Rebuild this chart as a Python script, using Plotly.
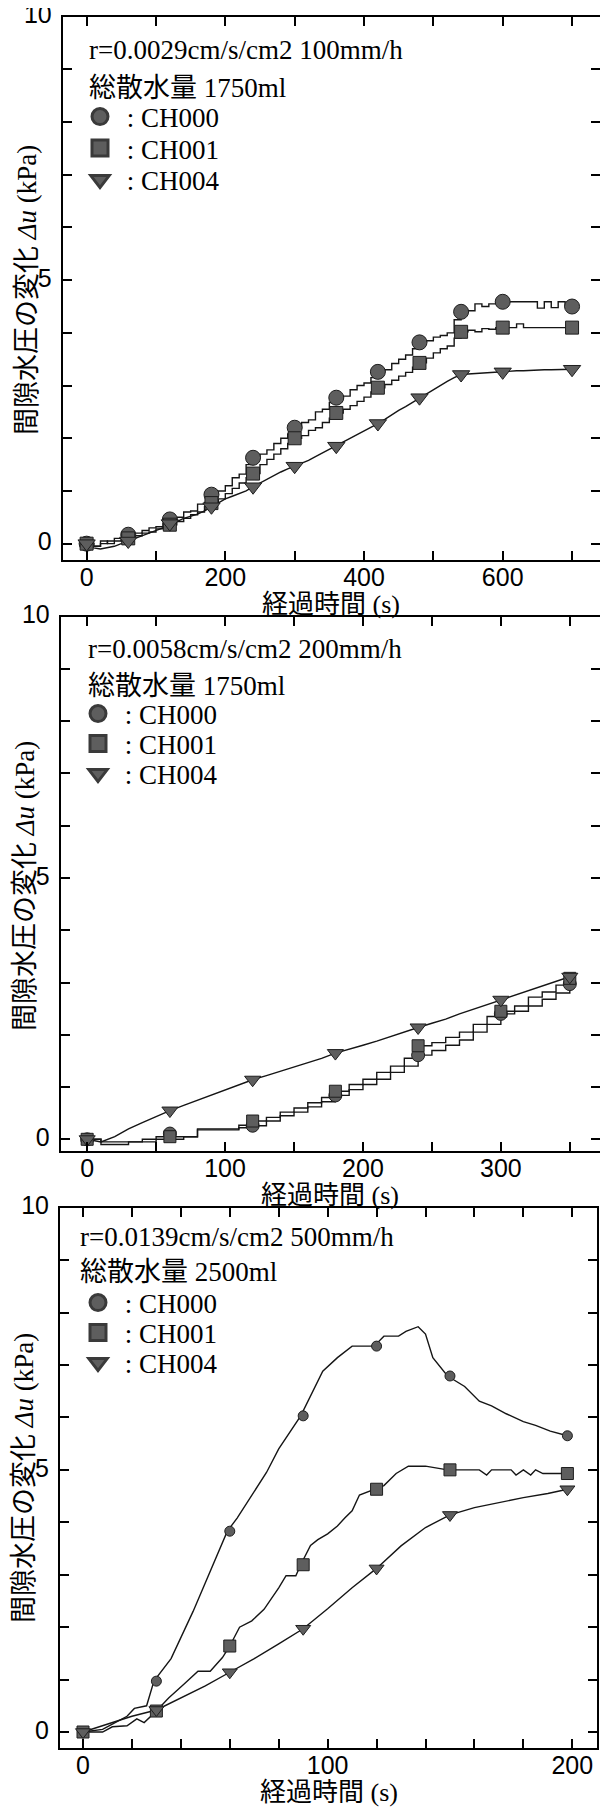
import plotly.graph_objects as go

# page body has an 8px margin; the figure fills the rest of the 608x1808 window
OFF = 8
W, H = 600, 1800

# ---------------- data ----------------
SERIES = ["CH000", "CH001", "CH004"]

# Panel 1: r=0.0029cm/s/cm2 100mm/h
P1_T = [0, 10, 20, 30, 40, 50, 60, 70, 80, 90, 100, 110, 120, 130, 140, 150, 160, 170, 180, 190,
        200, 210, 220, 230, 240, 250, 260, 270, 280, 290, 300, 310, 320, 330, 340, 350, 360, 370, 380, 390,
        400, 410, 420, 430, 440, 450, 460, 470, 480, 490, 500, 510, 520, 530, 540, 550, 560, 570, 580, 590,
        600, 610, 620, 630, 640, 650, 660, 670, 680, 690, 700]
P1_CH000 = [0.00, -0.05, 0.05, 0.00, 0.10, 0.05, 0.17, 0.20, 0.25, 0.30, 0.32, 0.38, 0.46, 0.50, 0.60, 0.62, 0.75, 0.78, 0.93, 1.00,
            1.10, 1.25, 1.32, 1.50, 1.63, 1.70, 1.78, 1.90, 2.00, 2.08, 2.20, 2.30, 2.35, 2.50, 2.55, 2.68, 2.77, 2.80, 2.92, 3.00,
            3.05, 3.15, 3.26, 3.30, 3.42, 3.50, 3.58, 3.70, 3.82, 3.85, 3.92, 3.95, 4.00, 4.25, 4.40, 4.42, 4.55, 4.50, 4.55, 4.58,
            4.59, 4.59, 4.59, 4.59, 4.59, 4.47, 4.59, 4.48, 4.59, 4.50, 4.50]
P1_CH001 = [0.00, -0.05, 0.00, 0.05, 0.05, 0.10, 0.10, 0.15, 0.20, 0.22, 0.28, 0.30, 0.36, 0.42, 0.48, 0.55, 0.60, 0.70, 0.77, 0.85,
            0.95, 1.05, 1.15, 1.25, 1.33, 1.50, 1.60, 1.70, 1.80, 1.90, 2.00, 2.05, 2.15, 2.20, 2.30, 2.38, 2.48, 2.55, 2.62, 2.70,
            2.78, 2.88, 2.96, 3.02, 3.10, 3.18, 3.25, 3.35, 3.43, 3.52, 3.62, 3.70, 3.75, 3.90, 4.02, 4.05, 4.02, 4.08, 4.07, 4.10,
            4.10, 4.10, 4.17, 4.10, 4.10, 4.10, 4.10, 4.10, 4.10, 4.10, 4.10]
P1_CH004 = [0.00, -0.08, -0.10, -0.08, -0.05, 0.00, 0.05, 0.10, 0.15, 0.20, 0.25, 0.30, 0.38, 0.42, 0.48, 0.52, 0.56, 0.62, 0.70, 0.78,
            0.85, 0.90, 0.95, 1.00, 1.08, 1.15, 1.22, 1.30, 1.36, 1.42, 1.47, 1.52, 1.58, 1.65, 1.72, 1.78, 1.85, 1.92, 2.00, 2.07,
            2.14, 2.20, 2.28, 2.36, 2.45, 2.53, 2.60, 2.68, 2.77, 2.85, 2.92, 3.00, 3.08, 3.15, 3.21, 3.22, 3.23, 3.23, 3.24, 3.25,
            3.26, 3.27, 3.28, 3.28, 3.29, 3.29, 3.30, 3.30, 3.30, 3.31, 3.31]
P1_MT = [0, 60, 120, 180, 240, 300, 360, 420, 480, 540, 600, 700]
P1_M000 = [0.00, 0.17, 0.46, 0.93, 1.63, 2.20, 2.77, 3.26, 3.82, 4.40, 4.59, 4.50]
P1_M001 = [0.00, 0.10, 0.36, 0.77, 1.33, 2.00, 2.48, 2.96, 3.43, 4.02, 4.10, 4.10]
P1_M004 = [0.00, 0.05, 0.38, 0.70, 1.08, 1.47, 1.85, 2.28, 2.77, 3.21, 3.26, 3.31]
P1_XTICKS = [0, 100, 200, 300, 400, 500, 600, 700]
P1_XTEXT = ["0", "", "200", "", "400", "", "600", ""]

# Panel 2: r=0.0058cm/s/cm2 200mm/h
P2_T = [0, 10, 20, 30, 40, 50, 60, 70, 80, 90, 100, 110, 120, 130, 140, 150, 160, 170, 180, 190,
        200, 210, 220, 230, 240, 250, 260, 270, 280, 290, 300, 310, 320, 330, 340, 350]
P2_CH000 = [0.00, -0.05, -0.05, -0.05, 0.00, 0.00, 0.05, 0.05, 0.18, 0.18, 0.18, 0.22, 0.26, 0.35, 0.45, 0.52, 0.62, 0.72, 0.84, 0.95,
            1.05, 1.15, 1.28, 1.40, 1.61, 1.70, 1.80, 1.90, 2.05, 2.20, 2.40, 2.45, 2.55, 2.68, 2.80, 2.97]
P2_CH001 = [0.00, -0.10, -0.10, -0.05, -0.05, 0.05, 0.00, 0.05, 0.20, 0.20, 0.20, 0.27, 0.35, 0.42, 0.52, 0.60, 0.70, 0.80, 0.92, 1.05,
            1.15, 1.28, 1.40, 1.55, 1.79, 1.85, 1.95, 2.05, 2.20, 2.35, 2.45, 2.55, 2.72, 2.82, 2.95, 3.08]
P2_CH004 = [0.00, -0.05, 0.05, 0.20, 0.32, 0.44, 0.55, 0.65, 0.75, 0.85, 0.95, 1.04, 1.14, 1.22, 1.30, 1.38, 1.47, 1.55, 1.65, 1.72,
            1.80, 1.88, 1.97, 2.05, 2.14, 2.22, 2.30, 2.40, 2.49, 2.58, 2.67, 2.76, 2.85, 2.93, 3.02, 3.11]
P2_MT = [0, 60, 120, 180, 240, 300, 350]
P2_M000 = [0.00, 0.11, 0.26, 0.84, 1.61, 2.40, 2.97]
P2_M001 = [0.00, 0.05, 0.35, 0.92, 1.79, 2.45, 3.08]
P2_M004 = [0.00, 0.55, 1.14, 1.65, 2.14, 2.67, 3.11]
P2_XTICKS = [0, 50, 100, 150, 200, 250, 300, 350]
P2_XTEXT = ["0", "", "100", "", "200", "", "300", ""]

# Panel 3: r=0.0139cm/s/cm2 500mm/h
P3_T000 = [0, 8, 12, 18, 21, 26, 29, 36, 45, 52, 59, 63, 69, 75, 80, 89, 98, 104, 110, 119,
           123, 129, 132, 137, 140, 143, 149, 156, 162, 167, 173, 180, 185, 191, 198]
P3_CH000 = [0.00, 0.05, 0.15, 0.30, 0.45, 0.50, 0.97, 1.40, 2.30, 3.05, 3.83, 4.08, 4.52, 4.95, 5.40, 6.03, 6.88, 7.14, 7.36, 7.36,
            7.55, 7.55, 7.64, 7.73, 7.59, 7.14, 6.79, 6.59, 6.31, 6.22, 6.07, 5.92, 5.85, 5.74, 5.65]
P3_T001 = [0, 8, 12, 18, 22, 25, 30, 35, 41, 47, 52, 57, 60, 64, 69, 74, 80, 83, 87, 89, 93, 96, 100, 104, 107, 110, 113,
           119, 123, 128, 133, 140, 149, 162, 165, 167, 175, 177, 180, 183, 185, 188, 198]
P3_CH001 = [0.00, 0.00, 0.10, 0.12, 0.25, 0.18, 0.40, 0.65, 0.90, 1.16, 1.16, 1.42, 1.64, 2.00, 2.12, 2.34, 2.75, 2.98, 2.98, 3.19,
            3.56, 3.67, 3.78, 3.93, 4.08, 4.22, 4.52, 4.63, 4.70, 4.93, 5.07, 5.07, 5.00, 5.00, 4.90, 5.00, 5.00, 4.90, 5.00, 4.90,
            5.00, 4.93, 4.93]
P3_T004 = [0, 10, 20, 30, 40, 50, 60, 70, 80, 90, 100, 110, 120, 130, 140, 150, 160, 170, 180, 190, 198]
P3_CH004 = [0.00, 0.15, 0.30, 0.42, 0.65, 0.88, 1.14, 1.40, 1.68, 1.97, 2.35, 2.75, 3.12, 3.55, 3.90, 4.14, 4.28, 4.38, 4.47,
            4.55, 4.63]
P3_MT = [0, 30, 60, 90, 120, 150, 198]
P3_M000 = [0.00, 0.97, 3.83, 6.03, 7.36, 6.79, 5.65]
P3_M001 = [0.00, 0.40, 1.64, 3.19, 4.63, 5.00, 4.93]
P3_M004 = [0.00, 0.42, 1.14, 1.97, 3.12, 4.14, 4.63]
P3_XTICKS = [0, 20, 40, 60, 80, 100, 120, 140, 160, 180, 200]
P3_XTEXT = ["0", "", "", "", "", "100", "", "", "", "", "200"]

Y_TICKS = [0, 1, 2, 3, 4, 5, 6, 7, 8, 9, 10]
Y_TEXT = ["0", "", "", "", "", "5", "", "", "", "", "10"]

P1_LINES = ["r=0.0029cm/s/cm2 100mm/h", "総散水量 1750ml"]
P2_LINES = ["r=0.0058cm/s/cm2 200mm/h", "総散水量 1750ml"]
P3_LINES = ["r=0.0139cm/s/cm2 500mm/h", "総散水量 2500ml"]

X_TITLE = "経過時間 (s)"
Y_TITLE = "間隙水圧の変化 <i>Δu</i> (kPa)"

# ---------------- styling / layout ----------------
SERIF = "Liberation Serif, 'Noto Sans CJK JP', serif"
SANS = "Liberation Sans, Arial, sans-serif"
SYMBOLS = ["circle", "square", "triangle-down"]
FILL = "#5e5e5e"
EDGE = "#1e1e1e"
LINEC = "#151515"


def fx(p):
    return (p - OFF) / W


def fy(p):
    return 1 - (p - OFF) / H


panels = [
    dict(xd=(62.7, 600), yd=(16.7, 560), xr=(-34.5, 740.3), yr=(-0.31, 10),
         xt=P1_XTICKS, xtt=P1_XTEXT,
         lines=[(P1_T, P1_CH000, "hv"), (P1_T, P1_CH001, "hv"), (P1_T, P1_CH004, "linear")],
         mt=P1_MT, mv=[P1_M000, P1_M001, P1_M004], msz=[15, 13, 15],
         txt=P1_LINES, tx=87, ty=[49.5, 87.5], lx=80, ly=[117, 148.5, 180],
         xtitle_y=604, ytitle=(27, 290)),
    dict(xd=(60.7, 600), yd=(616.7, 1150.7), xr=(-19.2, 371.9), yr=(-0.218, 10),
         xt=P2_XTICKS, xtt=P2_XTEXT,
         lines=[(P2_T, P2_CH000, "hv"), (P2_T, P2_CH001, "hv"), (P2_T, P2_CH004, "linear")],
         mt=P2_MT, mv=[P2_M000, P2_M001, P2_M004], msz=[13, 12, 14],
         txt=P2_LINES, tx=86, ty=[648.5, 685.5], lx=78, ly=[714, 744, 774],
         xtitle_y=1195, ytitle=(25, 886)),
    dict(xd=(60, 597), yd=(1207.7, 1748), xr=(-9.4, 210.1), yr=(-0.305, 10),
         xt=P3_XTICKS, xtt=P3_XTEXT,
         lines=[(P3_T000, P3_CH000, "linear"), (P3_T001, P3_CH001, "linear"), (P3_T004, P3_CH004, "linear")],
         mt=P3_MT, mv=[P3_M000, P3_M001, P3_M004], msz=[10, 12, 13],
         txt=P3_LINES, tx=78, ty=[1237, 1272], lx=78, ly=[1303, 1333, 1363],
         xtitle_y=1792, ytitle=(24, 1478)),
]

fig = go.Figure()
annotations = []
layout = dict(width=W, height=H, margin=dict(l=0, r=0, t=0, b=0, pad=0, autoexpand=False),
              paper_bgcolor="white", plot_bgcolor="white", showlegend=True)

for i, p in enumerate(panels):
    n = "" if i == 0 else str(i + 1)
    xa, ya = "x" + n, "y" + n
    for k in range(3):
        t, v, shape = p["lines"][k]
        fig.add_trace(go.Scatter(x=t, y=v, mode="lines", line=dict(color=LINEC, width=1.4, shape=shape),
                                 xaxis=xa, yaxis=ya, showlegend=False, hoverinfo="skip"))
    for k in range(3):
        fig.add_trace(go.Scatter(x=p["mt"], y=p["mv"][k], mode="markers",
                                 marker=dict(symbol=SYMBOLS[k], size=p["msz"][k], color=FILL,
                                             line=dict(color=EDGE, width=1)),
                                 xaxis=xa, yaxis=ya, showlegend=False, name=SERIES[k]))
    # legend entries, one small legend each
    for k in range(3):
        lname = "legend" if (i == 0 and k == 0) else "legend" + str(i * 3 + k + 1)
        fig.add_trace(go.Scatter(x=[None], y=[None], mode="markers",
                                 marker=dict(symbol=SYMBOLS[k], size=20, color=FILL,
                                             line=dict(color="#3a3a3a", width=3)),
                                 xaxis=xa, yaxis=ya, showlegend=True, legend=lname,
                                 name=" : " + SERIES[k]))
        layout[lname] = dict(x=fx(p["lx"]), y=fy(p["ly"][k]), xanchor="left", yanchor="middle",
                             bgcolor="rgba(0,0,0,0)", borderwidth=0, itemwidth=30,
                             font=dict(family=SERIF, size=27, color="black"))

    axis_common = dict(showline=True, linewidth=2, linecolor="black", mirror="ticks",
                       ticks="inside", ticklen=9, tickwidth=1.5, tickcolor="black",
                       showgrid=False, zeroline=False, tickmode="array", automargin=False,
                       ticklabeloverflow="allow",
                       tickfont=dict(family=SANS, size=25, color="black"))
    layout["xaxis" + n] = dict(axis_common, domain=[fx(p["xd"][0]), fx(p["xd"][1])], range=list(p["xr"]),
                               tickvals=p["xt"], ticktext=p["xtt"], anchor=ya, ticklabelstandoff=-6)
    layout["yaxis" + n] = dict(axis_common, domain=[fy(p["yd"][1]), fy(p["yd"][0])], range=list(p["yr"]),
                               tickvals=Y_TICKS, ticktext=Y_TEXT, anchor=xa, ticklabelstandoff=4,
                               ticklabelshift=-2)

    for j, s in enumerate(p["txt"]):
        annotations.append(dict(text=s, xref="paper", yref="paper", x=fx(p["tx"]), y=fy(p["ty"][j]),
                                xanchor="left", yanchor="middle", showarrow=False,
                                font=dict(family=SERIF, size=27, color="black")))
    annotations.append(dict(text=X_TITLE, xref="paper", yref="paper",
                            x=fx((p["xd"][0] + p["xd"][1]) / 2), y=fy(p["xtitle_y"]),
                            xanchor="center", yanchor="middle", showarrow=False,
                            font=dict(family=SERIF, size=26, color="black")))
    annotations.append(dict(text=Y_TITLE, xref="paper", yref="paper", textangle=-90,
                            x=fx(p["ytitle"][0]), y=fy(p["ytitle"][1]),
                            xanchor="center", yanchor="middle", showarrow=False,
                            font=dict(family=SERIF, size=27, color="black")))

layout["annotations"] = annotations
fig.update_layout(**layout)
fig.write_html("out.html")
